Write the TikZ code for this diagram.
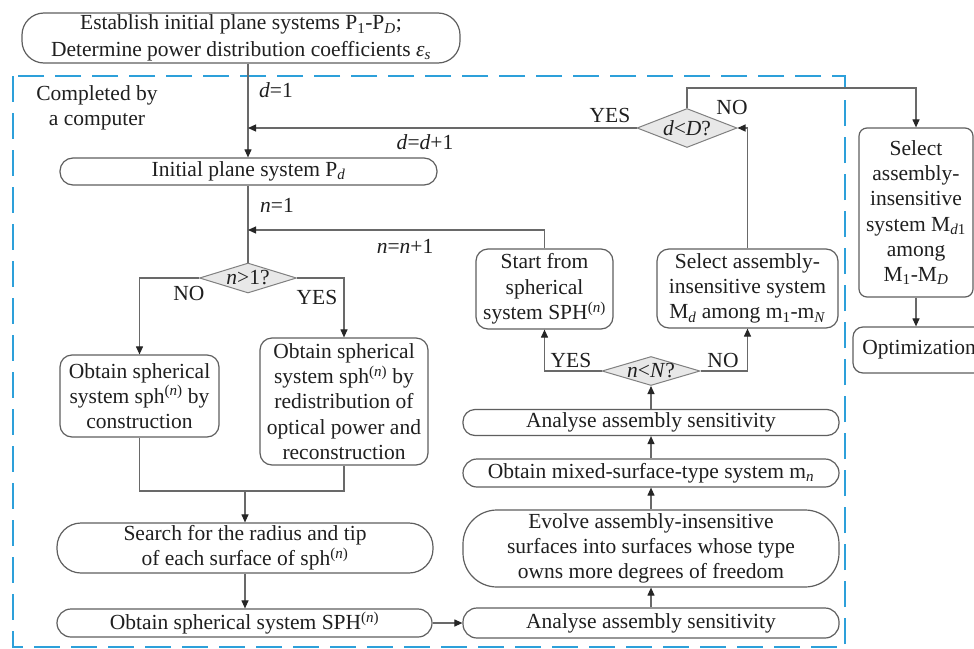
\documentclass[tikz,border=0pt]{standalone}
\usepackage{fontspec}
\setmainfont{Liberation Serif}
\usetikzlibrary{shapes.geometric,arrows.meta}
\definecolor{dashblue}{RGB}{45,160,218}
\definecolor{linegray}{RGB}{105,105,105}
\definecolor{boxgray}{RGB}{95,95,95}
\definecolor{diafill}{RGB}{232,232,232}
\begin{document}
\begin{tikzpicture}[x=1pt,y=-1pt,
  every node/.style={font=\fontsize{21.5}{25.3}\selectfont, text=black!88},
  box/.style={draw=boxgray, line width=1.2pt, inner sep=0pt, align=center, fill=white},
  dia/.style={diamond, draw=gray, fill=diafill, line width=1pt, inner sep=0pt},
  conn/.style={draw=linegray, line width=1.1pt},
  arr/.style={conn, -{Triangle[length=8pt,width=7pt,color=black!85]}},
  lbl/.style={inner sep=0pt}
]
\useasboundingbox (0,0) rectangle (974,648);
\fill[white] (0,0) rectangle (974,648);

% dashed frame
\draw[dashblue, line width=2.6pt, dash pattern=on 26pt off 11pt] (13,76) rectangle (845,647);

\coordinate (ax) at (248,0);
\coordinate (tl) at (0,88);
\coordinate (nl) at (0,230);
\coordinate (jl) at (245,491);

% nodes
\node[box, minimum width=438pt, minimum height=50pt, rounded corners=22pt, font=\fontsize{21.5}{26.5}\selectfont] (top) at (241,38)
  {Establish initial plane systems P\textsubscript{1}-P\textsubscript{\textit{D}};\\Determine power distribution coefficients \textit{ε}\textsubscript{\textit{s}}};
\node[lbl, align=center] (comp) at (97,108) {Completed by\\a computer};
\node[box, minimum width=377pt, minimum height=27pt, rounded corners=13pt] (init) at (248.5,171.5)
  {Initial plane system P\textsubscript{\textit{d}}};
\node[dia, minimum width=97pt, minimum height=30pt] (q1) at (248,278) {};
\node[lbl] at (q1) {\textit{n}>1?};
\node[box, minimum width=159pt, minimum height=82pt, rounded corners=12pt] (lbox) at (139.5,396)
  {Obtain spherical\\system sph\textsuperscript{(\textit{n})} by\\construction};
\node[box, minimum width=168pt, minimum height=127pt, rounded corners=12pt] (rbox) at (344,401.5)
  {Obtain spherical\\system sph\textsuperscript{(\textit{n})} by\\redistribution of\\optical power and\\reconstruction};
\node[box, minimum width=376pt, minimum height=50pt, rounded corners=24pt] (search) at (245,548)
  {Search for the radius and tip\\of each surface of sph\textsuperscript{(\textit{n})}};
\node[box, minimum width=375pt, minimum height=28pt, rounded corners=14pt] (sph) at (244.5,623)
  {Obtain spherical system SPH\textsuperscript{(\textit{n})}};
\node[box, minimum width=376pt, minimum height=30pt, rounded corners=14pt] (a1) at (651,623)
  {Analyse assembly sensitivity};
\node[box, minimum width=376pt, minimum height=77pt, rounded corners=34pt] (evolve) at (651,548.5)
  {Evolve assembly-insensitive\\surfaces into surfaces whose type\\owns more degrees of freedom};
\node[box, minimum width=376pt, minimum height=28pt, rounded corners=14pt] (mixed) at (651,473)
  {Obtain mixed-surface-type system m\textsubscript{\textit{n}}};
\node[box, minimum width=376pt, minimum height=26pt, rounded corners=12pt] (a2) at (651,422.5)
  {Analyse assembly sensitivity};
\node[dia, minimum width=98pt, minimum height=29pt] (q2) at (651,371) {};
\node[lbl] at (q2) {\textit{n}<\textit{N}?};
\node[box, minimum width=137pt, minimum height=80pt, rounded corners=12pt] (start) at (544.5,289)
  {Start from\\spherical\\system SPH\textsuperscript{(\textit{n})}};
\node[box, minimum width=181pt, minimum height=79pt, rounded corners=12pt] (md) at (747.5,288.5)
  {Select assembly-\\insensitive system\\M\textsubscript{\textit{d}} among m\textsubscript{1}-m\textsubscript{\textit{N}}};
\node[dia, minimum width=100pt, minimum height=39pt] (qd) at (687,128) {};
\node[lbl] at (qd) {\textit{d}<\textit{D}?};
\node[box, minimum width=114pt, minimum height=169pt, rounded corners=8pt] (sel) at (916,212.5)
  {Select\\assembly-\\insensitive\\system M\textsubscript{\textit{d}1}\\among\\M\textsubscript{1}-M\textsubscript{\textit{D}}};
\node[box, minimum width=132pt, minimum height=46pt, rounded corners=10pt] (opt) at (919,350)
  {Optimization};

% labels
\node[lbl] at (276,90) {\textit{d}=1};
\node[lbl] at (425,142) {\textit{d}=\textit{d}+1};
\node[lbl] at (610,115) {YES};
\node[lbl] at (732,107) {NO};
\node[lbl] at (277,205) {\textit{n}=1};
\node[lbl] at (405,246) {\textit{n}=\textit{n}+1};
\node[lbl] at (189,293) {NO};
\node[lbl] at (317,297) {YES};
\node[lbl] at (571,360) {YES};
\node[lbl] at (723,360) {NO};

% connectors
\draw[arr] (top.south -| ax) -- (init.north -| ax);
\draw[arr] (qd.west) -- (qd.west -| ax);
\draw[conn] (init.south -| ax) -- (q1.north);
\draw[arr] (start.north) |- (ax |- nl);
\draw[arr] (q1.west) -| (lbox.north);
\draw[arr] (q1.east) -| (rbox.north);
\draw[conn] (lbox.south) -- (lbox.south |- jl) -- (rbox.south |- jl) -- (rbox.south);
\draw[arr] (jl) -- (search.north -| jl);
\draw[arr] (search.south) -- (sph.north -| search.south);
\draw[arr] (sph.east) -- (a1.west);
\draw[arr] (a1.north) -- (evolve.south);
\draw[arr] (evolve.north) -- (mixed.south);
\draw[arr] (mixed.north) -- (a2.south);
\draw[arr] (a2.north) -- (q2.south);
\draw[arr] (q2.west) -| (start.south);
\draw[arr] (q2.east) -| (md.south);
\draw[arr] (md.north) |- (qd.east);
\draw[arr] (qd.north) -- (qd.north |- tl) -| (sel.north);
\draw[arr] (sel.south) -- (sel.south |- opt.north);
\end{tikzpicture}
\end{document}
